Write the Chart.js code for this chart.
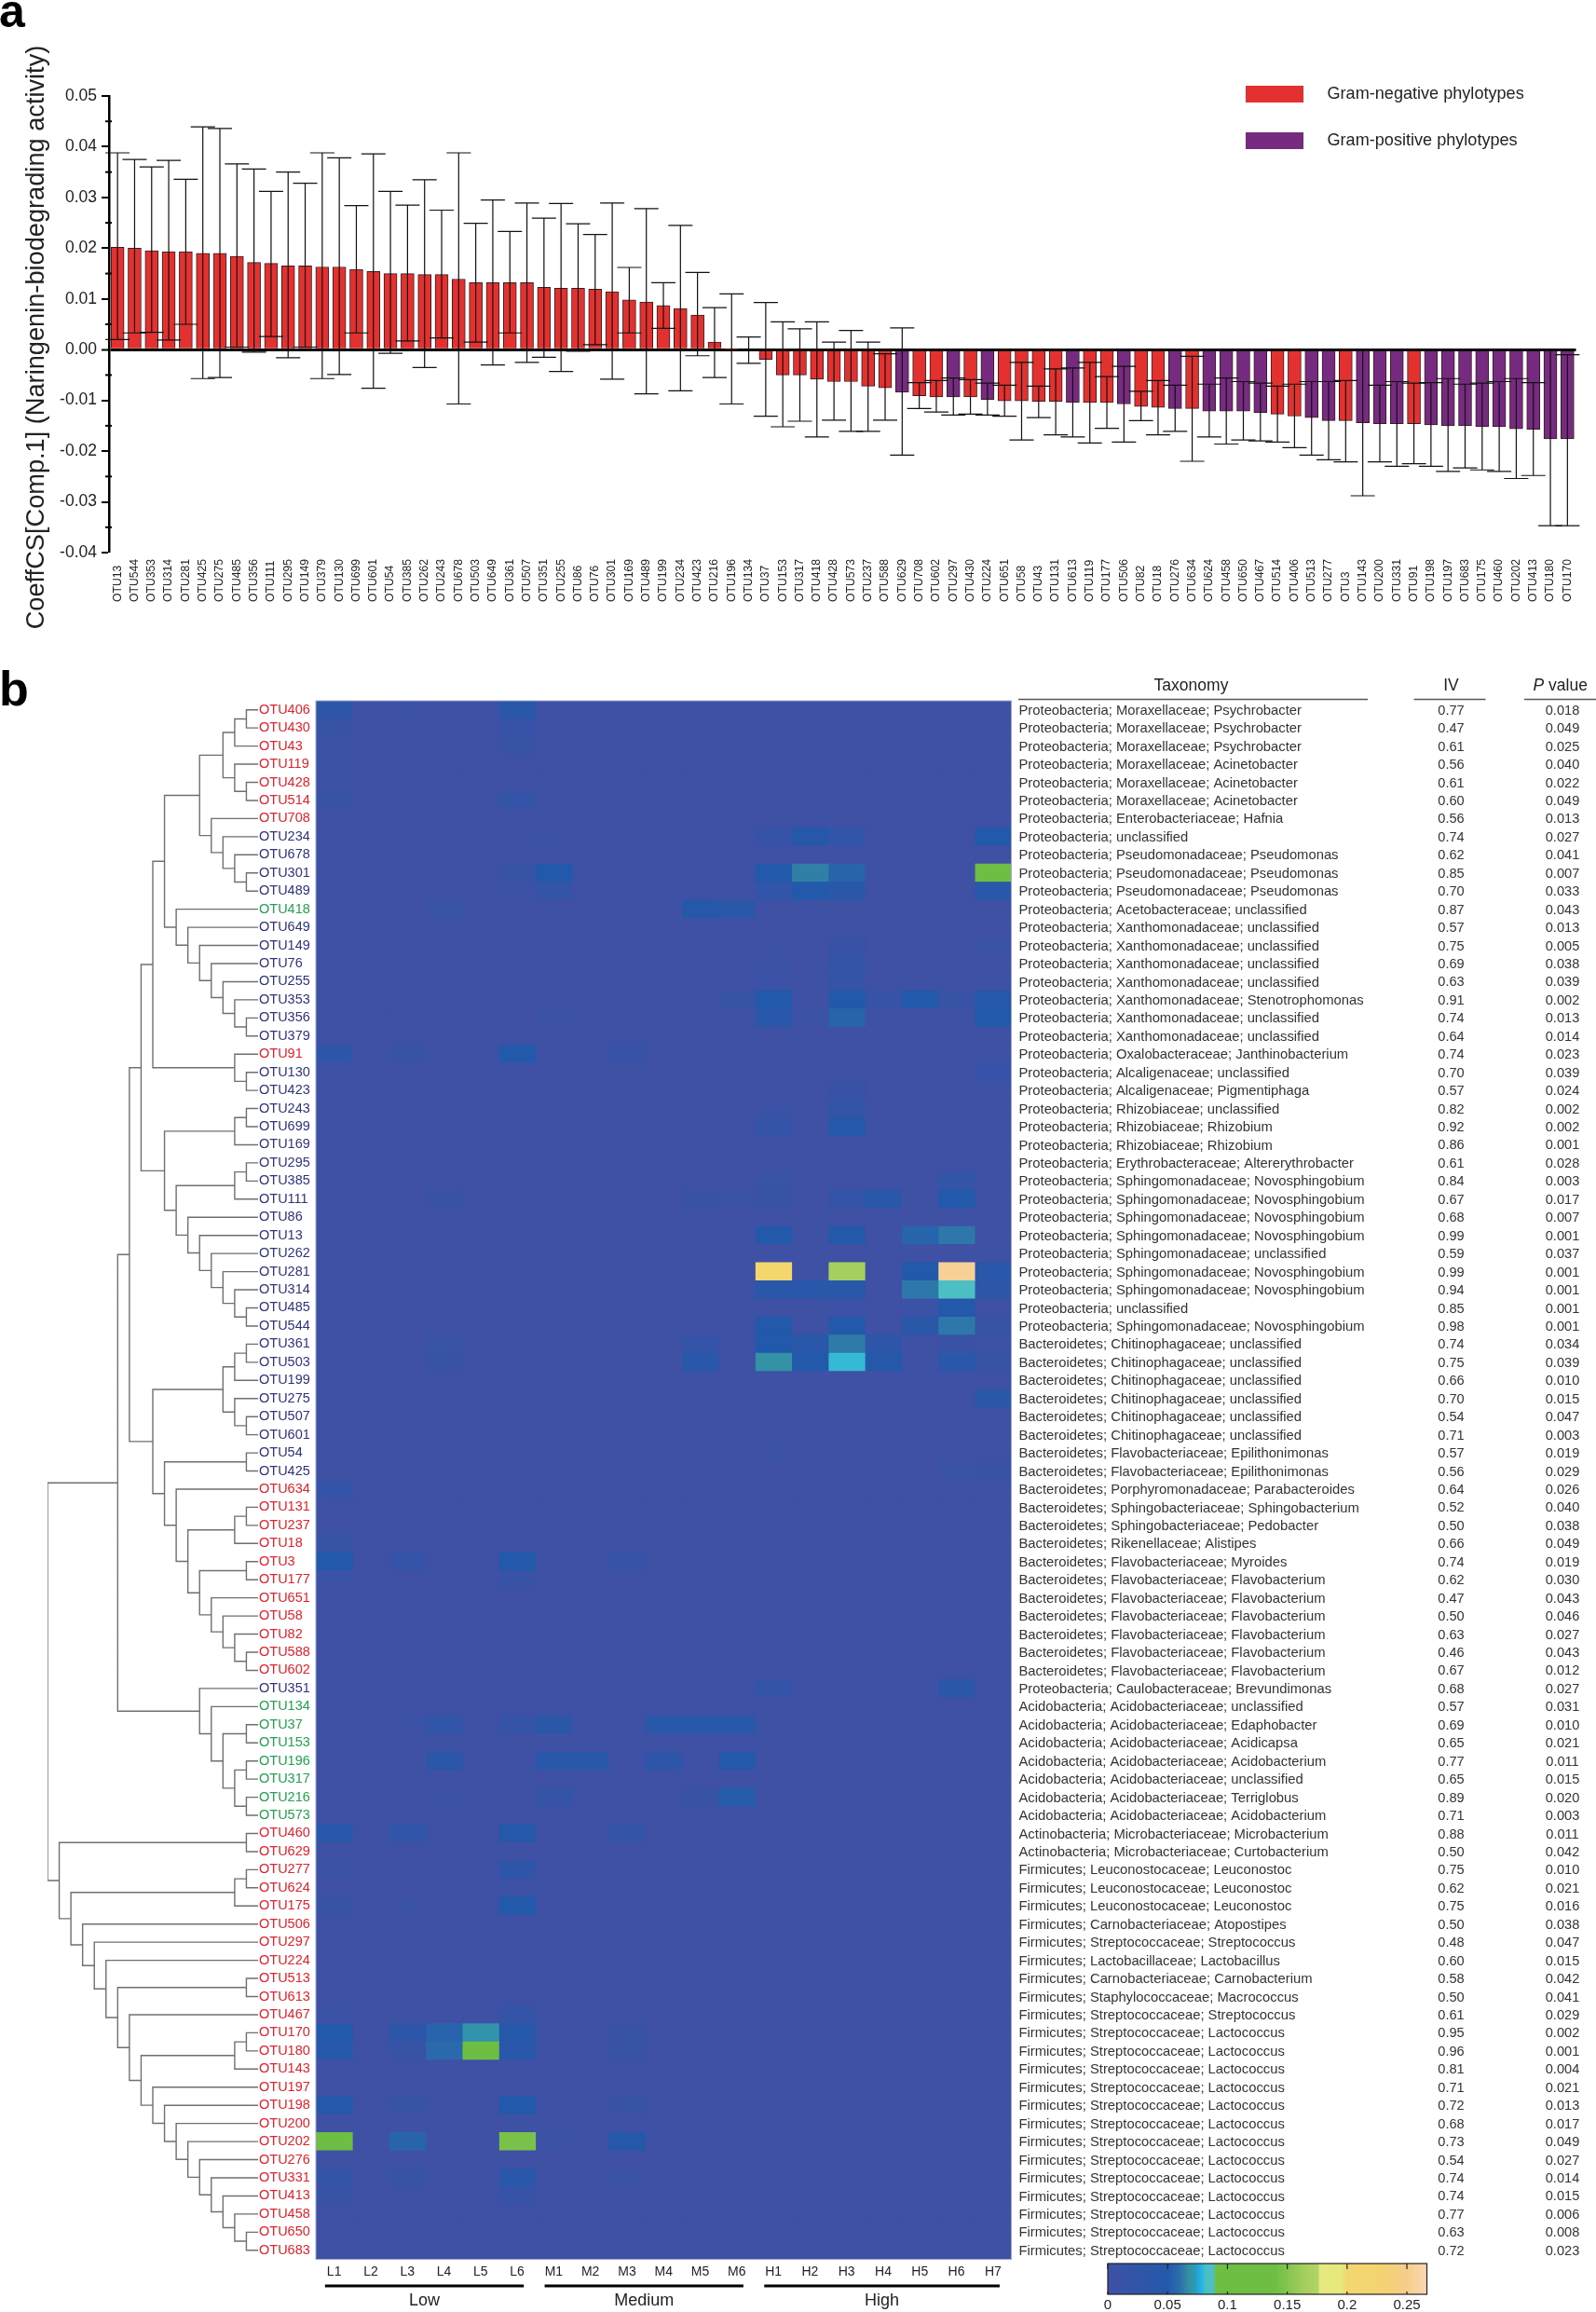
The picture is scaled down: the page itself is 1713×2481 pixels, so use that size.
<!DOCTYPE html>
<html>
<head>
<meta charset="utf-8">
<title>Naringenin biodegrading phylotypes</title>
<script src="https://cdn.jsdelivr.net/npm/chart.js@4"></script>
<style>
  html, body { margin: 0; background: #fff; }
  #page { position: relative; width: 1713px; height: 2481px; overflow: hidden; }
  canvas { position: absolute; display: block; }
</style>
</head>
<body>
<div id="page">
  <canvas id="barChart" width="1713" height="700" style="left:0;top:0"></canvas>
  <canvas id="heatChart" width="1713" height="1781" style="left:0;top:700px"></canvas>
  <canvas id="treeChart" width="285" height="1781" style="left:0;top:700px"></canvas>
  <canvas id="scaleChart" width="370" height="61" style="left:1180px;top:2420px"></canvas>
</div>
<script>
// ---- panel a: coefficients and confidence limits
const barOtus = [13,544,353,314,281,425,275,485,356,111,295,149,379,130,699,601,54,385,262,243,678,503,649,361,507,351,255,86,76,301,169,489,199,234,423,216,196,134,37,153,317,418,428,573,237,588,629,708,602,297,430,224,651,58,43,131,613,119,177,506,82,18,276,634,624,458,650,467,514,406,513,277,3,143,200,331,91,198,197,683,175,460,202,413,180,170];
const coef = [.0202,.0200,.0195,.0193,.0193,.0190,.0190,.0184,.0172,.0170,.0165,.0165,.0163,.0163,.0158,.0154,.0150,.0150,.0148,.0148,.0139,.0132,.0132,.0132,.0132,.0123,.0121,.0121,.0119,.0114,.0098,.0094,.0087,.0081,.0068,.0015,.0001,0,-.0019,-.0050,-.0050,-.0058,-.0063,-.0063,-.0072,-.0075,-.0084,-.0091,-.0093,-.0093,-.0093,-.0098,-.0101,-.0101,-.0102,-.0102,-.0104,-.0104,-.0104,-.0107,-.0112,-.0114,-.0116,-.0116,-.0121,-.0121,-.0121,-.0124,-.0127,-.0131,-.0134,-.0140,-.0140,-.0144,-.0146,-.0146,-.0146,-.0148,-.0150,-.0150,-.0152,-.0152,-.0156,-.0157,-.0176,-.0176];
const errHigh = [.0388,.0375,.0360,.0373,.0336,.0439,.0436,.0366,.0356,.0312,.0350,.0328,.0388,.0378,.0284,.0386,.0312,.0285,.0335,.0275,.0388,.0249,.0295,.0233,.0289,.0259,.0288,.0248,.0227,.0289,.0162,.0278,.0132,.0245,.0152,.0083,.0110,.0025,.0093,.0055,.0041,.0055,.0015,.0038,.0015,-.0008,.0043,-.0065,-.0061,-.0056,-.0059,-.0066,-.0070,-.0025,-.0072,-.0038,-.0036,-.0025,-.0053,-.0033,-.0082,-.0061,-.0070,-.0013,-.0068,-.0056,-.0063,-.0066,-.0072,-.0068,-.0063,-.0063,-.0061,-.0002,-.0070,-.0063,-.0066,-.0065,-.0057,-.0068,-.0066,-.0063,-.0057,-.0065,-.0002,-.0010];
const errLow = [.0020,.0033,.0034,.0019,.0050,-.0057,-.0055,.0005,-.0005,.0026,-.0016,.0005,-.0057,-.0049,.0033,-.0076,-.0007,.0017,-.0035,.0023,-.0107,.0015,-.0030,.0033,-.0025,-.0015,-.0043,-.0003,.0010,-.0058,.0033,-.0087,.0042,-.0081,-.0012,-.0055,-.0107,-.0027,-.0131,-.0152,-.0141,-.0172,-.0139,-.0161,-.0161,-.0139,-.0208,-.0116,-.0123,-.0129,-.0127,-.0129,-.0131,-.0178,-.0134,-.0168,-.0172,-.0184,-.0155,-.0182,-.0140,-.0168,-.0161,-.0220,-.0172,-.0186,-.0178,-.0180,-.0182,-.0193,-.0208,-.0217,-.0221,-.0288,-.0221,-.0230,-.0225,-.0230,-.0240,-.0233,-.0237,-.0240,-.0254,-.0248,-.0347,-.0347];
const gramPositive = [629,297,224,613,506,276,624,458,650,467,513,277,143,200,331,198,197,683,175,460,202,413,180,170];
const legendLabels = ['Gram-negative phylotypes', 'Gram-positive phylotypes'];

// ---- panel b: rows, columns, table
const rowOtus = [406,430,43,119,428,514,708,234,678,301,489,418,649,149,76,255,353,356,379,91,130,423,243,699,169,295,385,111,86,13,262,281,314,485,544,361,503,199,275,507,601,54,425,634,131,237,18,3,177,651,58,82,588,602,351,134,37,153,196,317,216,573,460,629,277,624,175,506,297,224,513,613,467,170,180,143,197,198,200,202,276,331,413,458,650,683];
const labelRuns = [[7,'r'],[4,'n'],[1,'g'],[7,'n'],[1,'r'],[23,'n'],[11,'r'],[1,'n'],[7,'g'],[24,'r']];
const columns = ['L1','L2','L3','L4','L5','L6','M1','M2','M3','M4','M5','M6','H1','H2','H3','H4','H5','H6','H7'];
const groups = [['Low',0,5],['Medium',6,11],['High',12,18]];

const P = 'Proteobacteria; ', X = P + 'Xanthomonadaceae; ', N = P + 'Sphingomonadaceae; Novosphingobium';
const C = 'Bacteroidetes; Chitinophagaceae; unclassified', FL = 'Bacteroidetes; Flavobacteriaceae; ';
const A = 'Acidobacteria; Acidobacteriaceae; ', LC = 'Firmicutes; Streptococcaceae; Lactococcus', LE = 'Firmicutes; Leuconostocaceae; Leuconostoc';
const taxonomy = [
  P+'Moraxellaceae; Psychrobacter',P+'Moraxellaceae; Psychrobacter',P+'Moraxellaceae; Psychrobacter',
  P+'Moraxellaceae; Acinetobacter',P+'Moraxellaceae; Acinetobacter',P+'Moraxellaceae; Acinetobacter',
  P+'Enterobacteriaceae; Hafnia',P+'unclassified',
  P+'Pseudomonadaceae; Pseudomonas',P+'Pseudomonadaceae; Pseudomonas',P+'Pseudomonadaceae; Pseudomonas',
  P+'Acetobacteraceae; unclassified',
  X+'unclassified',X+'unclassified',X+'unclassified',X+'unclassified',X+'Stenotrophomonas',X+'unclassified',X+'unclassified',
  P+'Oxalobacteraceae; Janthinobacterium',P+'Alcaligenaceae; unclassified',P+'Alcaligenaceae; Pigmentiphaga',
  P+'Rhizobiaceae; unclassified',P+'Rhizobiaceae; Rhizobium',P+'Rhizobiaceae; Rhizobium',
  P+'Erythrobacteraceae; Altererythrobacter',N,N,N,N,P+'Sphingomonadaceae; unclassified',N,N,P+'unclassified',N,
  C,C,C,C,C,C,FL+'Epilithonimonas',FL+'Epilithonimonas',
  'Bacteroidetes; Porphyromonadaceae; Parabacteroides','Bacteroidetes; Sphingobacteriaceae; Sphingobacterium',
  'Bacteroidetes; Sphingobacteriaceae; Pedobacter','Bacteroidetes; Rikenellaceae; Alistipes',FL+'Myroides',
  FL+'Flavobacterium',FL+'Flavobacterium',FL+'Flavobacterium',FL+'Flavobacterium',FL+'Flavobacterium',FL+'Flavobacterium',
  P+'Caulobacteraceae; Brevundimonas',A+'unclassified',A+'Edaphobacter',A+'Acidicapsa',A+'Acidobacterium',A+'unclassified',A+'Terriglobus',A+'Acidobacterium',
  'Actinobacteria; Microbacteriaceae; Microbacterium','Actinobacteria; Microbacteriaceae; Curtobacterium',
  LE,LE,LE,'Firmicutes; Carnobacteriaceae; Atopostipes','Firmicutes; Streptococcaceae; Streptococcus',
  'Firmicutes; Lactobacillaceae; Lactobacillus','Firmicutes; Carnobacteriaceae; Carnobacterium','Firmicutes; Staphylococcaceae; Macrococcus',
  'Firmicutes; Streptococcaceae; Streptococcus',LC,LC,LC,LC,LC,LC,LC,LC,LC,LC,LC,LC,LC
];
const ivValues = ['0.77','0.47','0.61','0.56','0.61','0.60','0.56','0.74','0.62','0.85','0.70','0.87','0.57','0.75','0.69','0.63','0.91','0.74','0.64','0.74','0.70','0.57','0.82','0.92','0.86','0.61','0.84','0.67','0.68','0.99','0.59','0.99','0.94','0.85','0.98','0.74','0.75','0.66','0.70','0.54','0.71','0.57','0.56','0.64','0.52','0.50','0.66','0.74','0.62','0.47','0.50','0.63','0.46','0.67','0.68','0.57','0.69','0.65','0.77','0.65','0.89','0.71','0.88','0.50','0.75','0.62','0.75','0.50','0.48','0.60','0.58','0.50','0.61','0.95','0.96','0.81','0.71','0.72','0.68','0.73','0.54','0.74','0.74','0.77','0.63','0.72'];
const pValues = ['0.018','0.049','0.025','0.040','0.022','0.049','0.013','0.027','0.041','0.007','0.033','0.043','0.013','0.005','0.038','0.039','0.002','0.013','0.014','0.023','0.039','0.024','0.002','0.002','0.001','0.028','0.003','0.017','0.007','0.001','0.037','0.001','0.001','0.001','0.001','0.034','0.039','0.010','0.015','0.047','0.003','0.019','0.029','0.026','0.040','0.038','0.049','0.019','0.030','0.043','0.046','0.027','0.043','0.012','0.027','0.031','0.010','0.021','0.011','0.015','0.020','0.003','0.011','0.042','0.010','0.021','0.016','0.038','0.047','0.015','0.042','0.041','0.029','0.002','0.001','0.004','0.021','0.013','0.017','0.049','0.027','0.014','0.015','0.006','0.008','0.023'];

// non-zero cells only, every other cell reads as 0
const heatCells = {
  406:{L1:.03,L3:.005,L6:.035}, 430:{L1:.012,L6:.015}, 43:{L1:.008,L6:.012}, 119:{L1:.006}, 428:{L1:.005},
  514:{L1:.012,L6:.02}, 234:{L6:.004,M1:.006,H1:.015,H2:.045,H3:.025,H7:.05},
  301:{L6:.012,M1:.05,H1:.05,H2:.064,H3:.055,H7:.14}, 489:{L6:.006,M1:.02,H1:.025,H2:.05,H3:.035,H7:.04},
  418:{L4:.01,M5:.045,M6:.035}, 149:{H1:.004,H3:.012,H7:.006}, 76:{M1:.002,H1:.005,H3:.02},
  255:{L3:.003,H1:.008,H3:.018,H7:.004}, 353:{M6:.012,H1:.05,H3:.05,H4:.015,H5:.05,H6:.012,H7:.045},
  356:{L3:.004,M1:.006,M2:.003,M4:.003,H1:.04,H2:.005,H3:.055,H7:.05}, 91:{L1:.03,L3:.012,L6:.05,M3:.015},
  130:{H7:.015}, 423:{H3:.012}, 243:{H1:.006,H3:.02}, 699:{M1:.004,H1:.02,H3:.045,H6:.004},
  385:{H1:.01,H3:.004,H6:.022}, 111:{L4:.012,M5:.012,M6:.006,H1:.012,H3:.02,H4:.04,H6:.05},
  13:{H1:.05,H3:.05,H5:.055,H6:.062},
  281:{H1:.205,H3:.165,H5:.05,H6:.255,H7:.04}, 314:{L3:.003,H1:.04,H2:.04,H3:.04,H5:.062,H6:.085,H7:.03},
  485:{H3:.005,H5:.006,H6:.05}, 544:{H1:.05,H3:.05,H5:.035,H6:.062,H7:.012},
  361:{L4:.01,M5:.018,H1:.05,H2:.04,H3:.063,H4:.03,H6:.012,H7:.006},
  503:{L4:.012,M5:.04,H1:.069,H2:.05,H3:.08,H4:.045,H6:.04,H7:.012},
  275:{H7:.035}, 601:{H1:.002}, 54:{H1:.006,H3:.004}, 425:{H6:.01,H7:.012}, 634:{L1:.02},
  18:{L1:.014,L6:.004}, 3:{L1:.05,L3:.018,L6:.05,M3:.015}, 177:{L1:.006,L6:.012}, 588:{L6:.004},
  351:{H1:.02,H6:.035}, 37:{L3:.008,L4:.025,L6:.016,M1:.035,M4:.04,M5:.04,M6:.04,H1:.004},
  196:{L4:.035,M1:.04,M2:.04,M4:.03,M6:.05,H2:.004}, 216:{L4:.006,M1:.018,M5:.012,M6:.052},
  460:{L1:.04,L3:.025,L6:.045,M3:.02}, 277:{L1:.005,L3:.003,L6:.03}, 624:{L6:.004},
  175:{L1:.012,L3:.006,L6:.05,M3:.003}, 467:{L1:.006,L3:.002,L6:.02},
  170:{L1:.05,L3:.03,L4:.055,L5:.07,L6:.045,M3:.012}, 180:{L1:.045,L3:.012,L4:.058,L5:.12,L6:.04,M3:.012},
  197:{L6:.003}, 198:{L1:.045,L3:.012,L6:.05,M3:.012}, 200:{L6:.003},
  202:{L1:.13,L3:.055,L6:.145,M1:.005,M2:.004,M3:.045}, 331:{L1:.02,L3:.012,L6:.04,M3:.006}, 413:{L1:.012,L6:.015}
};

// merge heights for the dendrogram: [height, child, child], numbers are OTUs
const tree = [18,
  [12,
    [11,
      [10,
        [9,
          [8,
            [5,[3,[2,[1,406,430],43],[2,119,[1,428,514]]],[4,708,[3,234,[2,678,[1,301,489]]]]],
            [7,418,[6,649,[5,149,[4,76,[3,255,[2,353,[1,356,379]]]]]]]
          ],
          [2,91,[1,130,423]]
        ],
        [8,[2,[1,243,699],169],[7,[2,[1,295,385],111],[6,86,[5,13,[4,262,[3,281,[2,314,[1,485,544]]]]]]]]
      ],
      [9,
        [3,[2,[1,361,503],199],[2,275,[1,507,601]]],
        [8,[1,54,425],[7,634,[6,[2,[1,131,237],18],[5,[1,3,177],[4,651,[3,58,[2,82,[1,588,602]]]]]]]]
      ]
    ],
    [5,351,[4,134,[3,[1,37,153],[2,[1,196,317],[1,216,573]]]]]
  ],
  [17,
    [1,460,629],
    [16,
      [2,[1,277,624],175],
      [15,506,[14,297,[13,224,[12,[1,513,613],[11,467,[10,[2,[1,170,180],143],[9,197,[8,198,[7,200,[6,202,[5,276,[4,331,[3,413,[2,458,[1,650,683]]]]]]]]]]]]]]]
    ]
  ]
];

// colour scale of the heat map
const scaleMax = 0.2667;
const scaleTicks = [0, 0.05, 0.1, 0.15, 0.2, 0.25];
const stopValues = [0,.05,.06,.068,.073,.078,.082,.0885,.09,.14,.165,.176,.177,.195,.2,.23,.25,.2667];
const stopColors = ['#3f51a5','#2359aa','#2c6ead','#35909f','#2a9bc0','#1fb3e6','#4bbfc4','#4bbfc4','#6fbe44','#6fbe44','#a5cf5f','#b2d466','#e6e97e','#e6e97e','#f4d76e','#f4d272','#f6cd8a','#f9d8b4'];

const FONT = '"Liberation Sans", Arial, sans-serif';
const RED = '#e3312f', PURPLE = '#772b80';
const labelColors = { r: '#e8202a', n: '#2e3380', g: '#22a24f' };
const rowColors = labelRuns.flatMap(([n, k]) => Array(n).fill(labelColors[k]));

function hexToRgb(h) {
  return [1, 3, 5].map(i => parseInt(h.substr(i, 2), 16));
}
function colorFor(v) {
  let i = 0;
  while (i < stopValues.length - 2 && v > stopValues[i + 1]) i++;
  const t = Math.min(1, (v - stopValues[i]) / (stopValues[i + 1] - stopValues[i]));
  const a = hexToRgb(stopColors[i]), b = hexToRgb(stopColors[i + 1]);
  return 'rgb(' + a.map((c, k) => Math.round(c + (b[k] - c) * t)).join(',') + ')';
}

// panel a extras: error bars, minor ticks, rotated names, legend, title
const barExtras = {
  id: 'barExtras',
  afterDatasetsDraw(chart) {
    const ctx = chart.ctx, y = chart.scales.y, meta = chart.getDatasetMeta(0);
    ctx.save();
    ctx.strokeStyle = '#111';
    ctx.lineWidth = 1.2;
    meta.data.forEach((bar, i) => {
      const hi = y.getPixelForValue(errHigh[i]), lo = y.getPixelForValue(errLow[i]);
      ctx.beginPath();
      ctx.moveTo(bar.x, hi); ctx.lineTo(bar.x, lo);
      ctx.moveTo(bar.x - 13, hi); ctx.lineTo(bar.x + 13, hi);
      ctx.moveTo(bar.x - 13, lo); ctx.lineTo(bar.x + 13, lo);
      ctx.stroke();
    });
    ctx.restore();
  },
  afterDraw(chart) {
    const ctx = chart.ctx, x = chart.scales.x, y = chart.scales.y;
    ctx.save();
    // minor ticks
    ctx.strokeStyle = '#000';
    ctx.lineWidth = 2;
    for (let v = -0.035; v < 0.05; v += 0.01) {
      const py = y.getPixelForValue(v);
      ctx.beginPath();
      ctx.moveTo(chart.chartArea.left - 4, py);
      ctx.lineTo(chart.chartArea.left + 3, py);
      ctx.stroke();
    }
    // OTU names read upwards from a common baseline
    ctx.fillStyle = '#222';
    ctx.font = '12.2px ' + FONT;
    ctx.textAlign = 'left';
    ctx.textBaseline = 'middle';
    barOtus.forEach((otu, i) => {
      ctx.save();
      ctx.translate(x.getPixelForValue(i), 646);
      ctx.rotate(-Math.PI / 2);
      ctx.fillText('OTU' + otu, 0, 0);
      ctx.restore();
    });
    // axis title
    ctx.save();
    ctx.translate(40, 362);
    ctx.rotate(-Math.PI / 2);
    ctx.textAlign = 'center';
    ctx.font = '27.2px ' + FONT;
    ctx.fillStyle = '#222';
    ctx.fillText('CoeffCS[Comp.1] (Naringenin-biodegrading activity)', 0, 0);
    ctx.restore();
    // legend
    [RED, PURPLE].forEach((c, i) => {
      ctx.fillStyle = c;
      ctx.fillRect(1337, 92 + i * 50, 62, 18);
      ctx.fillStyle = '#222';
      ctx.font = '18.1px ' + FONT;
      ctx.fillText(legendLabels[i], 1424.5, 101 + i * 50);
    });
    ctx.fillStyle = '#000';
    ctx.font = 'bold 50px ' + FONT;
    ctx.textBaseline = 'alphabetic';
    ctx.fillText('a', -1, 29);
    ctx.restore();
  }
};

new Chart(document.getElementById('barChart'), {
  type: 'bar',
  data: {
    labels: barOtus.map(o => 'OTU' + o),
    datasets: [{
      data: coef,
      backgroundColor: barOtus.map(o => gramPositive.includes(o) ? PURPLE : RED),
      borderColor: '#3a1a22',
      borderWidth: 1,
      barThickness: 14
    }]
  },
  options: {
    responsive: false,
    animation: false,
    layout: { padding: { left: 57, right: 21.5, top: 103, bottom: 107 } },
    plugins: { legend: { display: false }, tooltip: { enabled: false } },
    scales: {
      x: { display: false },
      y: {
        min: -0.04,
        max: 0.05,
        afterFit(scale) { scale.width = 60; },
        ticks: {
          stepSize: 0.01,
          padding: 5,
          color: '#222',
          font: { family: FONT, size: 17.5 },
          callback: v => v.toFixed(2)
        },
        border: { display: true, color: '#000', width: 2.5 },
        grid: {
          color: '#000',
          lineWidth: c => Math.abs(c.tick.value) < 1e-9 ? 3 : 0,
          tickColor: '#000',
          tickWidth: 2,
          tickLength: 8
        }
      }
    }
  },
  plugins: [barExtras]
});

// panel b extras: table, group bars, headers, frame
const heatExtras = {
  id: 'heatExtras',
  beforeDatasetsDraw(chart) {
    const a = chart.chartArea;
    chart.ctx.fillStyle = colorFor(0);
    chart.ctx.fillRect(a.left, a.top, a.width, a.height);
  },
  afterDraw(chart) {
    const ctx = chart.ctx, a = chart.chartArea, x = chart.scales.x, y = chart.scales.y;
    ctx.save();
    ctx.strokeStyle = '#a5abd0';
    ctx.lineWidth = 1;
    ctx.strokeRect(a.left, a.top, a.width, a.height);

    ctx.textBaseline = 'middle';
    ctx.fillStyle = '#333';
    rowOtus.forEach((otu, i) => {
      const py = y.getPixelForValue(i) + 1;
      ctx.font = '14.8px ' + FONT;
      ctx.textAlign = 'left';
      ctx.fillText(taxonomy[i], 1093.5, py);
      ctx.textAlign = 'center';
      ctx.font = '14.6px ' + FONT;
      ctx.fillText(ivValues[i], 1557.5, py);
      ctx.fillText(pValues[i], 1677, py);
    });

    // table headers
    ctx.fillStyle = '#222';
    ctx.font = '17.5px ' + FONT;
    ctx.fillText('Taxonomy', 1278.5, 36);
    ctx.fillText('IV', 1557.5, 36);
    ctx.textAlign = 'left';
    ctx.font = 'italic 17.5px ' + FONT;
    const pw = ctx.measureText('P').width;
    ctx.fillText('P', 1645.5, 36);
    ctx.font = '17.5px ' + FONT;
    ctx.fillText(' value', 1645.5 + pw, 36);
    ctx.strokeStyle = '#555';
    ctx.lineWidth = 1.3;
    [[1093, 1468], [1517.5, 1594.5], [1636, 1713]].forEach(([from, to]) => {
      ctx.beginPath();
      ctx.moveTo(from, 50.5);
      ctx.lineTo(to, 50.5);
      ctx.stroke();
    });

    // Low / Medium / High brackets
    ctx.textAlign = 'center';
    ctx.font = '18px ' + FONT;
    groups.forEach(([name, first, last]) => {
      const from = x.getPixelForValue(first + 0.25), to = x.getPixelForValue(last + 0.68);
      ctx.strokeStyle = '#000';
      ctx.lineWidth = 3;
      ctx.beginPath();
      ctx.moveTo(from, 1753);
      ctx.lineTo(to, 1753);
      ctx.stroke();
      ctx.fillStyle = '#222';
      ctx.fillText(name, (from + to) / 2, 1769);
    });

    ctx.fillStyle = '#000';
    ctx.font = 'bold 52px ' + FONT;
    ctx.textAlign = 'left';
    ctx.textBaseline = 'alphabetic';
    ctx.fillText('b', -1, 57);
    ctx.restore();
  }
};

new Chart(document.getElementById('heatChart'), {
  type: 'bar',
  data: {
    labels: rowOtus.map(o => 'OTU' + o),
    datasets: columns.map((col, j) => ({
      label: col,
      data: rowOtus.map(() => [j, j + 1]),
      backgroundColor: rowOtus.map(o => colorFor((heatCells[o] || {})[col] || 0)),
      borderWidth: 0,
      grouped: false,
      barPercentage: 1,
      categoryPercentage: 1
    }))
  },
  options: {
    responsive: false,
    animation: false,
    indexAxis: 'y',
    layout: { padding: { left: 278, right: 627.5, top: 52, bottom: 0 } },
    plugins: { legend: { display: false }, tooltip: { enabled: false } },
    scales: {
      x: {
        type: 'linear',
        min: 0,
        max: columns.length,
        afterFit(scale) { scale.height = 56.5; },
        afterBuildTicks(scale) { scale.ticks = columns.map((c, i) => ({ value: i + 0.5 })); },
        grid: { display: false, drawTicks: false },
        border: { display: false },
        ticks: {
          autoSkip: false,
          maxRotation: 0,
          minRotation: 0,
          padding: 5,
          color: '#222',
          font: { family: FONT, size: 14 },
          callback: (v, i) => columns[i]
        }
      },
      y: {
        afterFit(scale) { scale.width = 61; },
        grid: { display: false, drawTicks: false },
        border: { display: false },
        ticks: {
          autoSkip: false,
          crossAlign: 'far',
          color: c => rowColors[c.index],
          font: { family: FONT, size: 14.5 }
        }
      }
    }
  },
  plugins: [heatExtras]
});

// dendrogram as one broken line through the chart's own scales
const treeLine = [];
function walkTree(node) {
  if (typeof node === 'number') return { h: 0, y: rowOtus.indexOf(node) + 0.5 };
  const a = walkTree(node[1]), b = walkTree(node[2]);
  treeLine.push({ x: a.h, y: a.y }, { x: node[0], y: a.y }, { x: node[0], y: b.y }, { x: b.h, y: b.y }, { x: null, y: null });
  return { h: node[0], y: (a.y + b.y) / 2 };
}
walkTree(tree);

new Chart(document.getElementById('treeChart'), {
  type: 'scatter',
  data: {
    datasets: [{
      data: treeLine,
      showLine: true,
      spanGaps: false,
      pointRadius: 0,
      borderColor: '#6f6f6f',
      borderWidth: 1.4
    }]
  },
  options: {
    responsive: false,
    animation: false,
    layout: { padding: { left: 51, right: 8, top: 52, bottom: 56.5 } },
    plugins: { legend: { display: false }, tooltip: { enabled: false } },
    scales: {
      x: { display: false, min: 0, max: 18, reverse: true },
      y: { display: false, min: 0, max: rowOtus.length, reverse: true }
    }
  }
});

// colour bar
const scaleExtras = {
  id: 'scaleExtras',
  afterDatasetsDraw(chart) {
    const ctx = chart.ctx, a = chart.chartArea, x = chart.scales.x;
    ctx.save();
    ctx.strokeStyle = '#222';
    ctx.lineWidth = 1.2;
    ctx.strokeRect(a.left, a.top, a.width, a.height);
    scaleTicks.forEach(v => {
      const px = x.getPixelForValue(v);
      ctx.beginPath();
      ctx.moveTo(px, a.top); ctx.lineTo(px, a.top + 6);
      ctx.moveTo(px, a.bottom); ctx.lineTo(px, a.bottom - 3);
      ctx.stroke();
    });
    ctx.restore();
  }
};

new Chart(document.getElementById('scaleChart'), {
  type: 'bar',
  data: {
    labels: ['scale'],
    datasets: [{
      data: [[0, scaleMax]],
      backgroundColor(c) {
        const a = c.chart.chartArea;
        if (!a) return stopColors[0];
        const g = c.chart.ctx.createLinearGradient(a.left, 0, a.right, 0);
        stopValues.forEach((v, i) => g.addColorStop(v / scaleMax, stopColors[i]));
        return g;
      },
      borderWidth: 0,
      barPercentage: 1,
      categoryPercentage: 1
    }]
  },
  options: {
    responsive: false,
    animation: false,
    indexAxis: 'y',
    layout: { padding: { left: 9, right: 18.5, top: 9, bottom: 0 } },
    plugins: { legend: { display: false }, tooltip: { enabled: false } },
    scales: {
      y: { display: false },
      x: {
        type: 'linear',
        min: 0,
        max: scaleMax,
        afterFit(scale) { scale.height = 19; },
        grid: { display: false, drawTicks: false },
        border: { display: false },
        ticks: {
          stepSize: 0.05,
          includeBounds: false,
          padding: 3,
          autoSkip: false,
          maxRotation: 0,
          color: '#222',
          font: { family: FONT, size: 15 },
          callback: v => String(+v.toFixed(2))
        }
      }
    }
  },
  plugins: [scaleExtras]
});
</script>
</body>
</html>
